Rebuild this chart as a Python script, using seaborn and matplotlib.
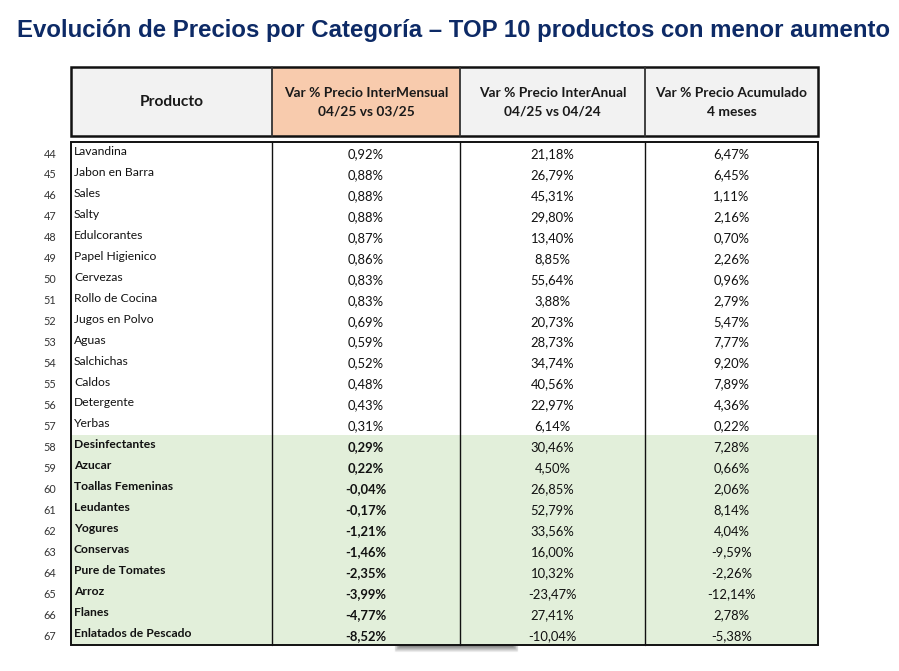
import numpy as np
import matplotlib
matplotlib.use("Agg")
import matplotlib.pyplot as plt
from matplotlib.colors import ListedColormap
from matplotlib.patches import Rectangle
import seaborn as sns

# ---------------- data ----------------
row_ids = list(range(44, 68))
productos = ["Lavandina", "Jabon en Barra", "Sales", "Salty", "Edulcorantes",
             "Papel Higienico", "Cervezas", "Rollo de Cocina", "Jugos en Polvo",
             "Aguas", "Salchichas", "Caldos", "Detergente", "Yerbas",
             "Desinfectantes", "Azucar", "Toallas Femeninas", "Leudantes",
             "Yogures", "Conservas", "Pure de Tomates", "Arroz", "Flanes",
             "Enlatados de Pescado"]
var_mensual = [0.92, 0.88, 0.88, 0.88, 0.87, 0.86, 0.83, 0.83, 0.69, 0.59,
               0.52, 0.48, 0.43, 0.31, 0.29, 0.22, -0.04, -0.17, -1.21,
               -1.46, -2.35, -3.99, -4.77, -8.52]
var_anual = [21.18, 26.79, 45.31, 29.80, 13.40, 8.85, 55.64, 3.88, 20.73,
             28.73, 34.74, 40.56, 22.97, 6.14, 30.46, 4.50, 26.85, 52.79,
             33.56, 16.00, 10.32, -23.47, 27.41, -10.04]
var_acum = [6.47, 6.45, 1.11, 2.16, 0.70, 2.26, 0.96, 2.79, 5.47, 7.77,
            9.20, 7.89, 4.36, 0.22, 7.28, 0.66, 2.06, 8.14, 4.04, -9.59,
            -2.26, -12.14, 2.78, -5.38]
top10 = [0] * 14 + [1] * 10
headers = ["Producto",
           "Var % Precio InterMensual\n04/25 vs 03/25",
           "Var % Precio InterAnual\n04/25 vs 04/24",
           "Var % Precio Acumulado\n4 meses"]
title = "Evolución de Precios por Categoría – TOP 10 productos con menor aumento"

# ---------------- style ----------------
sns.set_theme(style="white")
plt.rcParams["font.family"] = ["Lato", "DejaVu Sans"]

W, H = 899, 671
fig = plt.figure(figsize=(W / 100, H / 100), dpi=100)
fig.patch.set_facecolor("white")

col_edges = [71, 272, 460, 645, 818]
head_top, head_bot = 67, 136
body_top, body_bot = 142, 645
n = len(productos)
rh = (body_bot - body_top) / n

def fx(x):
    return x / W

def fy(y):
    return 1 - y / H

# body fill via seaborn heatmap
bax = fig.add_axes([fx(col_edges[0]), fy(body_bot),
                    fx(col_edges[-1]) - fx(col_edges[0]),
                    fy(body_top) - fy(body_bot)])
sns.heatmap(np.array(top10).reshape(-1, 1), ax=bax,
            cmap=ListedColormap(["white", "#e2efda"]), cbar=False,
            xticklabels=False, yticklabels=False, vmin=0, vmax=1)
bax.set_axis_off()

# overlay axes in pixel coordinates
ax = fig.add_axes([0, 0, 1, 1], facecolor="none")
ax.set_xlim(0, W)
ax.set_ylim(H, 0)
ax.set_axis_off()

# title
ax.text(454, 31, title, ha="center", va="center", fontsize=17.3,
        fontweight="bold", color="#0d2a66", family="Liberation Sans")

# header cells
head_fills = ["#f2f2f2", "#f8cbad", "#f2f2f2", "#f2f2f2"]
for i in range(4):
    x0, x1 = col_edges[i], col_edges[i + 1]
    ax.add_patch(Rectangle((x0, head_top), x1 - x0, head_bot - head_top,
                           facecolor=head_fills[i], edgecolor="none"))
    fs = 11.2 if i == 0 else 9.9
    ax.text((x0 + x1) / 2, (head_top + head_bot) / 2 + 1, headers[i],
            ha="center", va="center", fontsize=fs, fontweight="bold",
            color="#1a1a1a", linespacing=1.7)
ax.add_patch(Rectangle((col_edges[0], head_top), col_edges[-1] - col_edges[0],
                       head_bot - head_top, facecolor="none",
                       edgecolor="#111111", lw=1.8))
for x in col_edges[1:-1]:
    ax.plot([x, x], [head_top, head_bot], color="#333333", lw=1.3)

# body borders
ax.add_patch(Rectangle((col_edges[0], body_top), col_edges[-1] - col_edges[0],
                       body_bot - body_top, facecolor="none",
                       edgecolor="#111111", lw=1.4))
for x in col_edges[1:-1]:
    ax.plot([x, x], [body_top, body_bot], color="#111111", lw=1.0)

def fmt(v):
    return f"{v:.2f}%".replace(".", ",")

for r in range(n):
    y0 = body_top + r * rh
    bold = top10[r] == 1
    ax.text(50, y0 + 12, str(row_ids[r]), ha="center", va="center",
            fontsize=7.8, color="#333333")
    ax.text(col_edges[0] + 3, y0 + 9.5, productos[r], ha="left", va="center",
            fontsize=8.7, color="#111111",
            fontweight="bold" if bold else "normal")
    vals = [var_mensual[r], var_anual[r], var_acum[r]]
    for c, v in enumerate(vals):
        xc = (col_edges[c + 1] + col_edges[c + 2]) / 2
        ax.text(xc, y0 + 12, fmt(v), ha="center", va="center",
                fontsize=9.4, color="#111111",
                fontweight="bold" if (bold and c == 0) else "normal")

# small shadow under table
grad = np.linspace(0.55, 1.0, 8).reshape(-1, 1) * np.ones((1, 60))
edge = np.minimum(1, np.abs(np.linspace(-1, 1, 60)) ** 6 * 1.0)
grad = np.maximum(grad, edge[None, :])
ax.imshow(grad, cmap="gray", vmin=0, vmax=1, extent=(393, 520, 653, 646),
          aspect="auto", zorder=0.5)
ax.set_xlim(0, W)
ax.set_ylim(H, 0)

fig.savefig("out.png", dpi=100, facecolor="white")
